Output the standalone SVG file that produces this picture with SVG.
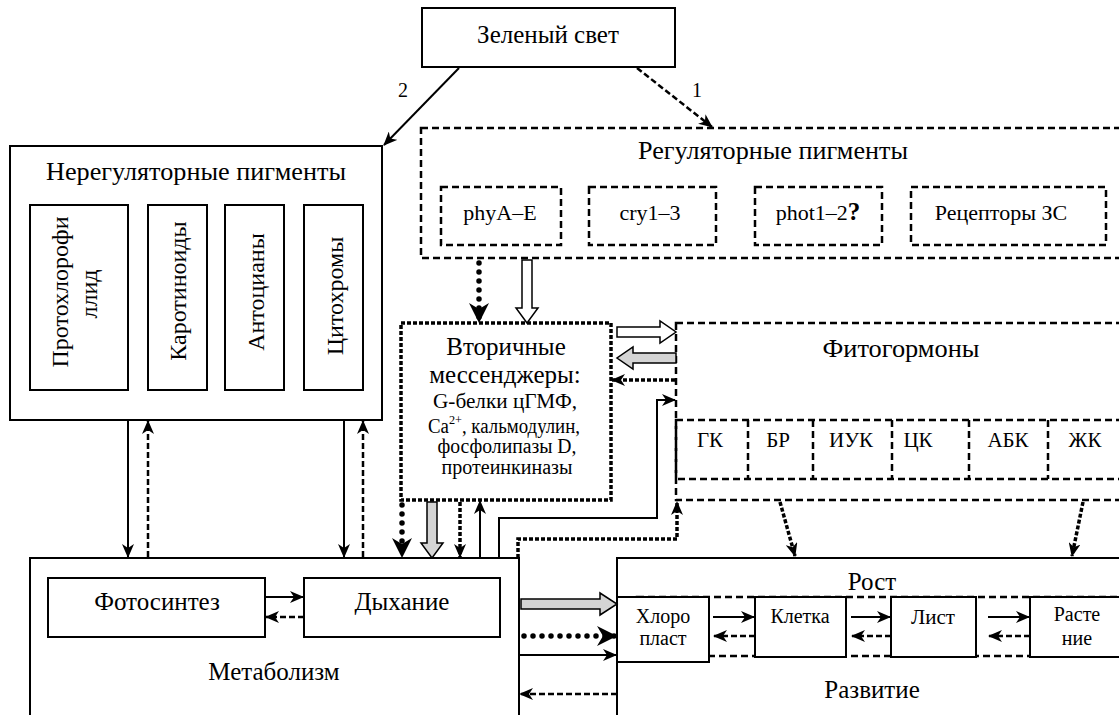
<svg xmlns="http://www.w3.org/2000/svg" width="1119" height="715" viewBox="0 0 1119 715">
<defs>
<style>
.t{font-family:"Liberation Serif","DejaVu Serif","Times New Roman",serif;fill:#000}
.b{fill:#fff;stroke:#000;stroke-width:2}
.d{fill:none;stroke:#000;stroke-width:2.5;stroke-dasharray:7 4}
.dw{fill:#fff;stroke:#000;stroke-width:2.5;stroke-dasharray:7 4}
.sqb{fill:#fff;stroke:#000;stroke-width:3.5;stroke-dasharray:4 2}
.c{fill:none;stroke:#000;stroke-width:2}
.cd{fill:none;stroke:#000;stroke-width:2.5;stroke-dasharray:6 3}
.cs{fill:none;stroke:#000;stroke-width:3.5;stroke-dasharray:4 2}
.cr{fill:none;stroke:#000;stroke-width:5.5;stroke-linecap:round;stroke-dasharray:0 9}
.hol{fill:#fff;stroke:#000;stroke-width:1.5}
.gry{fill:#d4d4d4;stroke:#000;stroke-width:1.5}
</style>
<marker id="ah" viewBox="0 0 14 12" refX="13" refY="6" markerWidth="14" markerHeight="12" orient="auto" markerUnits="userSpaceOnUse"><path d="M0,0 L14,6 L0,12 L4,6 z" fill="#000"/></marker>
<marker id="ahb" viewBox="0 0 20 20" refX="19" refY="10" markerWidth="20" markerHeight="20" orient="auto" markerUnits="userSpaceOnUse"><path d="M0,0 L20,10 L0,20 L6,10 z" fill="#000"/></marker>
</defs>
<rect width="1119" height="715" fill="#fff"/>

<g id="green">
<rect class="b" x="422" y="8" width="253" height="59"/>
<text class="t" x="548" y="43" font-size="25" text-anchor="middle">Зеленый свет</text>
</g>

<g id="reg">
<rect class="dw" x="421" y="128" width="720" height="130"/>
<text class="t" x="773" y="159" font-size="25" text-anchor="middle" textLength="270" lengthAdjust="spacingAndGlyphs">Регуляторные пигменты</text>
<rect class="d" x="441" y="187" width="120" height="58"/>
<text class="t" x="500" y="220" font-size="22" text-anchor="middle">phyA–E</text>
<rect class="d" x="589" y="187" width="127" height="58"/>
<text class="t" x="650" y="220" font-size="22" text-anchor="middle">cry1–3</text>
<rect class="d" x="755" y="187" width="127" height="58"/>
<text class="t" x="818" y="220" font-size="22" text-anchor="middle">phot1–2<tspan font-weight="bold" font-size="25">?</tspan></text>
<rect class="d" x="911" y="187" width="195" height="58"/>
<text class="t" x="1001" y="220" font-size="22" text-anchor="middle">Рецепторы ЗС</text>
</g>

<g id="nonreg">
<rect class="b" x="10" y="146" width="372" height="274"/>
<text class="t" x="196" y="180" font-size="25" text-anchor="middle" textLength="300" lengthAdjust="spacingAndGlyphs">Нерегуляторные пигменты</text>
<rect class="b" x="30" y="205" width="98" height="185"/>
<text class="t" font-size="24" text-anchor="middle" transform="translate(68,292) rotate(-90)">Протохлорофи</text>
<text class="t" font-size="24" text-anchor="middle" transform="translate(97,294) rotate(-90)">ллид</text>
<rect class="b" x="148" y="205" width="59" height="185"/>
<text class="t" font-size="24" text-anchor="middle" transform="translate(186,291) rotate(-90)">Каротиноиды</text>
<rect class="b" x="225" y="205" width="59" height="185"/>
<text class="t" font-size="24" text-anchor="middle" transform="translate(264,292) rotate(-90)">Антоцианы</text>
<rect class="b" x="304" y="205" width="59" height="185"/>
<text class="t" font-size="24" text-anchor="middle" transform="translate(343,296) rotate(-90)">Цитохромы</text>
</g>

<g id="second">
<rect class="sqb" x="401" y="323" width="210" height="177"/>
<text class="t" x="506" y="355" font-size="25" text-anchor="middle">Вторичные</text>
<text class="t" x="505" y="383" font-size="25" text-anchor="middle">мессенджеры:</text>
<text class="t" x="505" y="408" font-size="20" text-anchor="middle" textLength="144" lengthAdjust="spacingAndGlyphs">G-белки  цГМФ,</text>
<text class="t" x="504" y="433" font-size="20" text-anchor="middle" textLength="152" lengthAdjust="spacingAndGlyphs">Ca<tspan font-size="13" dy="-9">2+</tspan><tspan dy="9">, кальмодулин,</tspan></text>
<text class="t" x="507" y="453" font-size="20" text-anchor="middle" textLength="139" lengthAdjust="spacingAndGlyphs">фосфолипазы D,</text>
<text class="t" x="507" y="474" font-size="20" text-anchor="middle" textLength="131" lengthAdjust="spacingAndGlyphs">протеинкиназы</text>
</g>

<g id="phyto">
<rect class="dw" x="676" y="323" width="470" height="177"/>
<text class="t" x="901" y="357" font-size="25" text-anchor="middle" textLength="157" lengthAdjust="spacingAndGlyphs">Фитогормоны</text>
<rect class="d" x="676" y="420" width="470" height="59"/>
<path class="d" d="M748,420V479M813,420V479M892,420V479M969,420V479M1048,420V479"/>
<text class="t" x="710" y="447" font-size="21" text-anchor="middle">ГК</text>
<text class="t" x="778" y="447" font-size="21" text-anchor="middle">БР</text>
<text class="t" x="851" y="447" font-size="21" text-anchor="middle">ИУК</text>
<text class="t" x="918" y="447" font-size="21" text-anchor="middle">ЦК</text>
<text class="t" x="1008" y="447" font-size="21" text-anchor="middle">АБК</text>
<text class="t" x="1085" y="447" font-size="21" text-anchor="middle">ЖК</text>
</g>

<g id="metab">
<rect class="b" x="30" y="558" width="489" height="170"/>
<rect class="b" x="48" y="578" width="217" height="59"/>
<text class="t" x="157" y="610" font-size="25" text-anchor="middle">Фотосинтез</text>
<rect class="b" x="304" y="578" width="196" height="59"/>
<text class="t" x="402" y="610" font-size="25" text-anchor="middle">Дыхание</text>
<text class="t" x="274" y="680" font-size="25" text-anchor="middle">Метаболизм</text>
</g>

<g id="growth">
<rect class="b" x="617" y="558" width="520" height="170"/>
<text class="t" x="872" y="590" font-size="25" text-anchor="middle">Рост</text>
<rect class="d" x="637" y="597" width="510" height="59"/>
<rect class="b" x="617" y="597" width="92" height="65"/>
<text class="t" x="663" y="623" font-size="20" text-anchor="middle">Хлоро</text>
<text class="t" x="663" y="645" font-size="20" text-anchor="middle">пласт</text>
<rect class="b" x="755" y="597" width="91" height="60"/>
<text class="t" x="800" y="623" font-size="20" text-anchor="middle">Клетка</text>
<rect class="b" x="891" y="597" width="85" height="60"/>
<text class="t" x="933" y="624" font-size="21" text-anchor="middle">Лист</text>
<rect class="b" x="1030" y="597" width="110" height="60"/>
<text class="t" x="1077" y="621" font-size="20" text-anchor="middle">Расте</text>
<text class="t" x="1077" y="645" font-size="20" text-anchor="middle">ние</text>
<text class="t" x="872" y="698" font-size="25" text-anchor="middle">Развитие</text>
</g>

<g id="connectors">
<text class="t" x="403" y="97" font-size="20" text-anchor="middle">2</text>
<text class="t" x="697" y="97" font-size="20" text-anchor="middle">1</text>
<line class="c" stroke-width="1.8" x1="459" y1="68" x2="384" y2="145" marker-end="url(#ah)"/>
<line class="cd" x1="637" y1="68" x2="712" y2="127" marker-end="url(#ah)"/>
<line class="cr" x1="479" y1="263" x2="479" y2="322" marker-end="url(#ahb)"/>
<polygon class="hol" points="522,260 532,260 532,308 538,308 527,323 516,308 522,308"/>
<line class="c" x1="128" y1="421" x2="128" y2="557" marker-end="url(#ah)"/>
<line class="cd" x1="148" y1="557" x2="148" y2="421" marker-end="url(#ah)"/>
<line class="c" x1="344" y1="421" x2="344" y2="557" marker-end="url(#ah)"/>
<line class="cd" x1="363" y1="557" x2="363" y2="421" marker-end="url(#ah)"/>
<line class="cr" x1="402" y1="505" x2="402" y2="557" marker-end="url(#ahb)"/>
<polygon class="gry" points="427,502 437,502 437,543 443,543 432,558 421,543 427,543"/>
<line class="cs" x1="460" y1="502" x2="460" y2="557" marker-end="url(#ah)"/>
<line class="c" x1="480" y1="558" x2="480" y2="501" marker-end="url(#ah)"/>
<polygon class="hol" points="617,327 660,327 660,321 676,332 660,343 660,337 617,337"/>
<polygon class="gry" points="676,353 633,353 633,347 617,358 633,369 633,363 676,363"/>
<line class="cs" x1="675" y1="380" x2="612" y2="380" marker-end="url(#ah)"/>
<polyline class="c" points="499,558 499,518 657,518 657,400 675,400" marker-end="url(#ah)"/>
<polyline class="cs" points="518,558 518,539 677,539 677,502" marker-end="url(#ah)"/>
<line class="cs" x1="780" y1="502" x2="795" y2="556" marker-end="url(#ah)"/>
<line class="cs" x1="1083" y1="502" x2="1072" y2="556" marker-end="url(#ah)"/>
<polygon class="gry" points="521,599 600,599 600,593 617,604 600,615 600,609 521,609"/>
<line class="cr" x1="524" y1="636" x2="616" y2="636" marker-end="url(#ahb)"/>
<line class="c" x1="519" y1="655" x2="616" y2="655" marker-end="url(#ah)"/>
<line class="cd" x1="617" y1="694" x2="520" y2="694" marker-end="url(#ah)"/>
<line class="c" stroke-width="2.5" x1="265" y1="597" x2="303" y2="597" marker-end="url(#ah)"/>
<line class="cd" x1="304" y1="617" x2="266" y2="617" marker-end="url(#ah)"/>
<line class="c" stroke-width="2.5" x1="713" y1="617" x2="754" y2="617" marker-end="url(#ah)"/>
<line class="cd" x1="755" y1="636" x2="714" y2="636" marker-end="url(#ah)"/>
<line class="c" stroke-width="2.5" x1="851" y1="617" x2="890" y2="617" marker-end="url(#ah)"/>
<line class="cd" x1="891" y1="636" x2="852" y2="636" marker-end="url(#ah)"/>
<line class="c" stroke-width="2.5" x1="988" y1="617" x2="1029" y2="617" marker-end="url(#ah)"/>
<line class="cd" x1="1030" y1="636" x2="989" y2="636" marker-end="url(#ah)"/>
</g>
</svg>
